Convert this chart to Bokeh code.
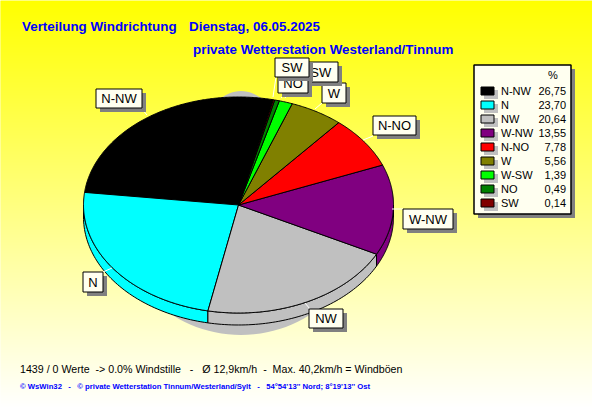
import numpy as np
from bokeh.plotting import figure
from bokeh.models import Range1d
from bokeh.core.properties import value
from bokeh.embed import file_html
from bokeh.resources import INLINE

directions = ["N-NW", "N", "NW", "W-NW", "N-NO", "W", "W-SW", "NO", "SW"]
percent = [26.75, 23.70, 20.64, 13.55, 7.78, 5.56, 1.39, 0.49, 0.14]
percent_text = ["26,75", "23,70", "20,64", "13,55", "7,78", "5,56", "1,39", "0,49", "0,14"]
colors = ["#000000", "#00ffff", "#c0c0c0", "#800080", "#ff0000", "#808000", "#00ff00", "#008000", "#800000"]

NB = "\u00a0"
title1 = "Verteilung Windrichtung"
title1b = "Dienstag, 06.05.2025"
title2 = "private Wetterstation Westerland/Tinnum"
foot1 = f"1439 / 0 Werte {NB}-> 0.0% Windstille {NB} - {NB} Ø 12,9km/h {NB}- {NB}Max. 40,2km/h = Windböen"
foot2 = f"© WsWin32 {NB} - {NB} © private Wetterstation Tinnum/Westerland/Sylt {NB} - {NB} 54°54'13'' Nord; 8°19'13'' Ost"

# label boxes: name, left, top, right, bottom; leader line x0,y0,x1,y1
boxes = [
    ("N-NW", 96, 89, 142, 108, 141, 108, 147, 115),
    ("W-NW", 403, 209, 453, 229, 392, 209, 403, 209),
    ("N-NO", 373, 116, 416, 135, 363, 140, 373, 136),
    ("W", 322, 83, 346, 103, 315, 109, 322, 103),
    ("N", 83, 272, 103, 292, 103, 272, 112, 268),
    ("NW", 309, 309, 343, 328, 310, 309, 305, 303),
    ("W-SW", 287, 62, 338, 82, 300, 80, 281, 98),
    ("NO", 278, 74, 308, 93, 285, 98, 288, 93),
    ("SW", 275, 58, 309, 77, 273, 97, 276, 77),
]

FONT = value("Liberation Sans")
p = figure(width=592, height=407, x_range=Range1d(0.5, 592.5), y_range=Range1d(407.5, 0.5),
           x_axis_type=None, y_axis_type=None, toolbar_location=None, output_backend="svg",
           min_border=0, outline_line_color=None)
p.grid.visible = False

# background gradient
rows = np.arange(0, 410)
shade = np.minimum(rows / 407 * 255, 255).astype(int)
p.quad(left=0, right=600, top=rows, bottom=rows + 1.5,
       fill_color=[f"#ffff{s:02x}" for s in shade], line_color=None)

cx, cy, a, b, depth = 238.5, 205, 155, 108, 12

# shadow
t = np.radians(np.arange(0, 361, 3))
semi = np.where(np.sin(t) < 0, 60, 125)
p.patch(241 + semi * np.cos(t), 213 + 122 * np.sin(t), fill_color="#c0c0c0", line_color=None)

frac = np.array(percent) / sum(percent) * 360
start = 77.0 + np.concatenate([[0], np.cumsum(frac)[:-1]])
end = start + frac

# side wall
for s, e, c in zip(start, end, colors):
    lo = max(s, 180)
    hi = min(e, 360)
    if lo < hi:
        tt = np.radians(np.linspace(lo, hi, 60))
        xs = cx + a * np.cos(tt)
        ytop = cy - b * np.sin(tt)
        p.patch(np.r_[xs, xs[::-1]], np.r_[ytop, (ytop + depth)[::-1]],
                fill_color=c, line_color="black", line_width=1)

# top face
for s, e, c in zip(start, end, colors):
    tt = np.radians(np.linspace(s, e, max(int(e - s) * 2, 3)))
    p.patch(np.r_[cx, cx + a * np.cos(tt)], np.r_[cy, cy - b * np.sin(tt)],
            fill_color=c, line_color="black", line_width=1)

# label boxes
for name, l, tp, r, bt, x0, y0, x1, y1 in boxes:
    p.line([x0, x1], [y0, y1], line_color="white", line_width=1)
    p.quad(left=l + 4, right=r + 4, top=tp + 4, bottom=bt + 4, fill_color="#808080", line_color=None)
    p.quad(left=l, right=r, top=tp, bottom=bt, fill_color="#fffff0", line_color="black", line_width=1)
    p.text([(l + r) / 2], [(tp + bt) / 2], text=[name], text_font=FONT, text_font_size="13px",
           text_align="center", text_baseline="middle", text_color="black")

# legend
p.quad(left=478, right=575, top=69, bottom=218, fill_color="#808080", line_color=None)
p.quad(left=474, right=571, top=65, bottom=214, fill_color="#fffff0", line_color="black", line_width=1.5)
p.text([553], [75], text=["%"], text_font=FONT, text_font_size="11px",
       text_align="center", text_baseline="middle", text_color="black")
for i, (d, v, c) in enumerate(zip(directions, percent_text, colors)):
    y = 91 + 14 * i
    p.quad(left=484, right=498, top=y - 1, bottom=y + 8, fill_color="#c0c0c0", line_color=None)
    p.quad(left=481, right=494, top=y - 4, bottom=y + 4, fill_color=c, line_color="black", line_width=1)
    p.text([501], [y], text=[d], text_font=FONT, text_font_size="11px",
           text_align="left", text_baseline="middle", text_color="black")
    p.text([566], [y], text=[v], text_font=FONT, text_font_size="11px",
           text_align="right", text_baseline="middle", text_color="black")

# titles
for tx, x, y in [(title1, 22, 26), (title1b, 189, 26), (title2, 193, 49)]:
    p.text([x], [y], text=[tx], text_font=FONT, text_font_size="13.4px", text_font_style="bold",
           text_align="left", text_baseline="middle", text_color="#0000ff")
p.text([20], [369], text=[foot1], text_font=FONT, text_font_size="10.65px",
       text_align="left", text_baseline="middle", text_color="black")
p.text([20], [386], text=[foot2], text_font=FONT, text_font_size="7.7px", text_font_style="bold",
       text_align="left", text_baseline="middle", text_color="#0000ff")

open("out.html", "w").write(file_html(p, INLINE))
